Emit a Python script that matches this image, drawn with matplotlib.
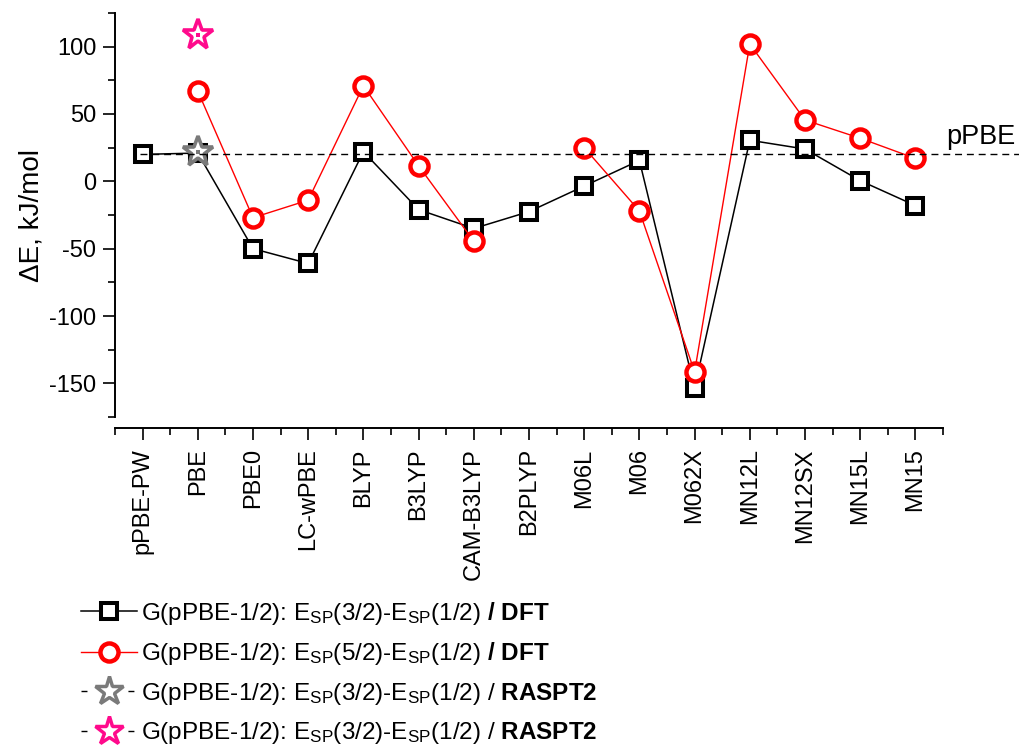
import numpy as np
import matplotlib
matplotlib.use("Agg")
import matplotlib.pyplot as plt
from matplotlib.lines import Line2D
from matplotlib.ticker import MultipleLocator

plt.rcParams["font.family"] = "Liberation Sans"
plt.rcParams["mathtext.fontset"] = "custom"
plt.rcParams["mathtext.rm"] = "Liberation Sans"
plt.rcParams["mathtext.it"] = "Liberation Sans:italic"
plt.rcParams["mathtext.bf"] = "Liberation Sans:bold"
plt.rcParams["axes.unicode_minus"] = False

functionals = ["pPBE-PW", "PBE", "PBE0", "LC-wPBE", "BLYP", "B3LYP", "CAM-B3LYP",
               "B2PLYP", "M06L", "M06", "M062X", "MN12L", "MN12SX", "MN15L", "MN15"]

# G(pPBE-1/2): E_SP(3/2) - E_SP(1/2), DFT
dft_32 = [20, 21, -50, -61, 22, -21, -35, -22.5, -3.5, 15.5, -153.5, 30.5, 24, 0.5, -18]
# G(pPBE-1/2): E_SP(5/2) - E_SP(1/2), DFT (no value for pPBE-PW and B2PLYP)
dft_52 = [np.nan, 67, -27, -14, 71, 11.5, -44.5, np.nan, 25, -22, -141.5, 102, 45.5, 32, 17]
# RASPT2 reference points (PBE column)
raspt2_x = ["PBE"]
raspt2_32 = [22]
raspt2_52 = [108.5]
ppbe_level = 20

x = np.arange(len(functionals))
rx = [functionals.index(n) for n in raspt2_x]

fig = plt.figure(figsize=(10.19, 7.46), dpi=100)
ax = fig.add_axes([115 / 1019, 1 - 417 / 746, (943 - 115) / 1019, (417 - 13) / 746])

# detached bottom axis (set before ticks, since it resets them)
for s in ("top", "right"):
    ax.spines[s].set_visible(False)
for s in ("left", "bottom"):
    ax.spines[s].set_linewidth(1.4)
ax.spines["bottom"].set_position(("outward", 8))

ax.plot(x, dft_32, color="black", lw=1.1, marker="s", ms=11.5, mew=2.9,
        mfc="white", mec="black", zorder=3)
ax.plot(x, dft_52, color="red", lw=1.0, marker="o", ms=13, mew=3.2,
        mfc="white", mec="red", zorder=4)

grey = "#7a7a7a"
pink = "#ff0a8c"
star = dict(ls="none", marker="*", ms=23, mew=2.6, mfc="white", zorder=5)
ax.plot(rx, raspt2_32, mec=grey, **star)
ax.plot(rx, raspt2_32, ls="none", marker="s", ms=3.5, mew=0, color=grey, zorder=6)
ax.plot(rx, raspt2_52, mec=pink, **star)
ax.plot(rx, raspt2_52, ls="none", marker="s", ms=3.5, mew=0, color=pink, zorder=6)

# pPBE reference level
ax.plot([-0.05, 16], [ppbe_level, ppbe_level], color="black", lw=1.0,
        dashes=(5, 3.5), clip_on=False, zorder=7)
ax.text(14.55, ppbe_level + 7.5, "pPBE", fontsize=19.5, ha="left", va="baseline")

ax.set_xlim(-0.5, 14.5)
ax.set_ylim(-175, 125)
ax.set_xticks(x)
ax.set_xticklabels(functionals)
ax.xaxis.set_minor_locator(MultipleLocator(0.5))
ax.set_yticks([-150, -100, -50, 0, 50, 100])
ax.yaxis.set_minor_locator(MultipleLocator(25))
ax.tick_params(axis="x", labelrotation=90, labelsize=17, pad=6)
ax.tick_params(axis="y", labelsize=17, pad=5)
ax.tick_params(which="major", direction="out", length=8.5, width=1.2)
ax.tick_params(which="minor", direction="out", length=5, width=1.2)
ax.set_ylabel("ΔE, kJ/mol", fontsize=20, labelpad=3)

dash_ends = (0, (4.3, 29.5))
handles = [
    Line2D([], [], color="black", lw=1.1, marker="s", ms=11.5, mew=2.9, mfc="white", mec="black"),
    Line2D([], [], color="red", lw=1.0, marker="o", ms=13, mew=3.2, mfc="white", mec="red"),
    Line2D([], [], color="black", lw=1.0, ls=dash_ends, marker="*", ms=21, mew=2.5, mfc="white", mec=grey),
    Line2D([], [], color="black", lw=1.0, ls=dash_ends, marker="*", ms=21, mew=2.5, mfc="white", mec=pink),
]
labels = [
    r"G(pPBE-1/2): E$_{\mathrm{SP}}$(3/2)-E$_{\mathrm{SP}}$(1/2) $\mathbf{/\ DFT}$",
    r"G(pPBE-1/2): E$_{\mathrm{SP}}$(5/2)-E$_{\mathrm{SP}}$(1/2) $\mathbf{/\ DFT}$",
    r"G(pPBE-1/2): E$_{\mathrm{SP}}$(3/2)-E$_{\mathrm{SP}}$(1/2) / $\mathbf{RASPT2}$",
    r"G(pPBE-1/2): E$_{\mathrm{SP}}$(3/2)-E$_{\mathrm{SP}}$(1/2) / $\mathbf{RASPT2}$",
]
fig.legend(handles, labels, loc="upper left", bbox_to_anchor=(81 / 1019, 1 - 600 / 746),
           frameon=False, fontsize=17.5, handlelength=2.3, handletextpad=0.15,
           labelspacing=0.55, borderaxespad=0, borderpad=0)

fig.savefig("out.png", dpi=100)
